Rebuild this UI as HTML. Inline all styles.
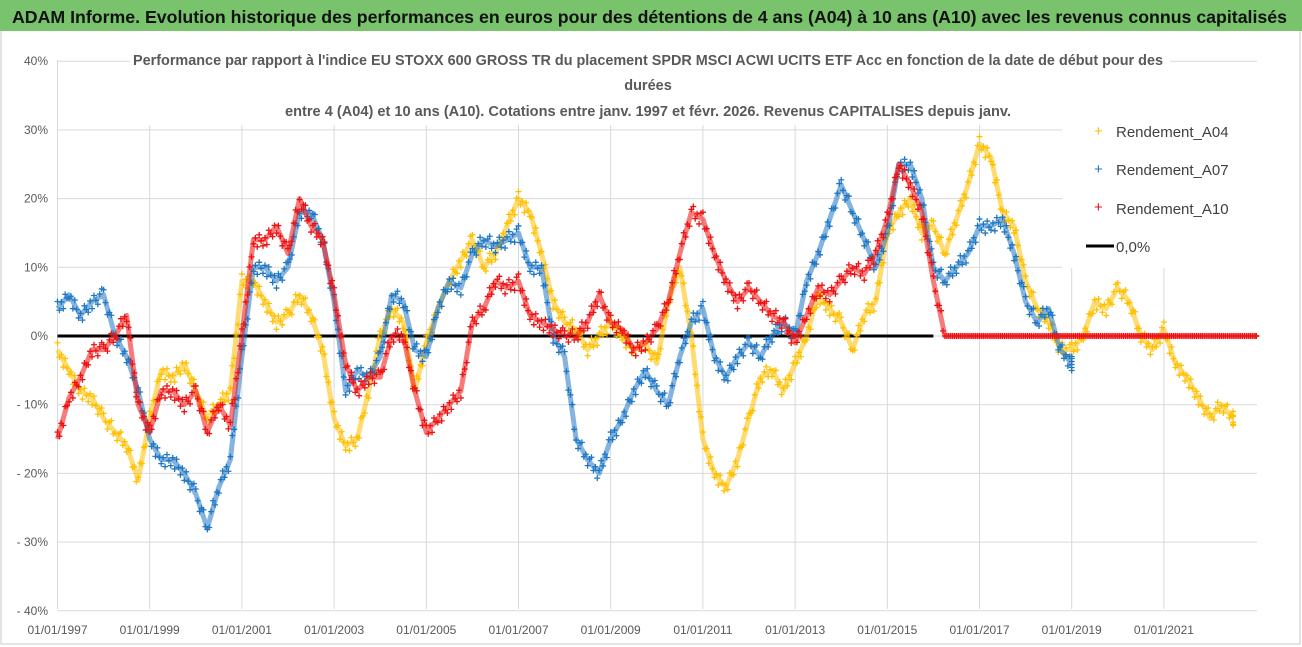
<!DOCTYPE html>
<html><head><meta charset="utf-8"><style>
body{margin:0;background:#fff;font-family:"Liberation Sans",sans-serif}
#wrap{position:relative;width:1302px;height:647px;overflow:hidden}
</style></head><body>
<div id="wrap">
<svg id="chart" width="1302" height="647">
<rect x="0" y="0" width="1302" height="647" fill="#fff"/>
<rect x="1" y="1" width="1299" height="643" fill="none" stroke="#c9c9c9"/>
<rect x="0" y="0" width="1302" height="31" fill="#78c36c"/>
<text x="12" y="23" font-size="17.5" font-weight="bold" fill="#111" font-family="Liberation Sans, sans-serif" textLength="1275" lengthAdjust="spacingAndGlyphs">ADAM Informe. Evolution historique des performances en euros pour des détentions de 4 ans (A04) à 10 ans (A10) avec les revenus connus capitalisés</text>
<g id="grid"></g>
<g id="marks"></g>
<rect x="130" y="44" width="1040" height="78" fill="#fff"/>
<g font-size="14.5" font-weight="bold" fill="#595959" text-anchor="middle">
<text x="648" y="65" textLength="1030" lengthAdjust="spacingAndGlyphs">Performance par rapport à l'indice EU STOXX 600 GROSS TR  du placement SPDR MSCI ACWI UCITS ETF Acc en fonction de la date de début pour des</text>
<text x="648" y="90">durées</text>
<text x="648" y="116" textLength="726" lengthAdjust="spacingAndGlyphs">entre 4 (A04) et 10 ans (A10). Cotations entre janv. 1997 et févr. 2026. Revenus CAPITALISES depuis janv.</text>
</g>
<rect x="1062" y="118" width="196" height="150" fill="#fff"/>
<g font-size="15" fill="#404040">
<g><text x="1094" y="136" fill="#ffc000" font-size="15">+</text><text x="1116" y="137">Rendement_A04</text></g>
<g><text x="1094" y="174" fill="#1f77c4" font-size="15">+</text><text x="1116" y="175">Rendement_A07</text></g>
<g><text x="1094" y="212" fill="#ee1111" font-size="15">+</text><text x="1116" y="214">Rendement_A10</text></g>
<g><line x1="1086" y1="246" x2="1114" y2="246" stroke="#000" stroke-width="3"/><text x="1116" y="252">0,0%</text></g>
</g>
<g id="labels" font-size="12" fill="#595959"></g>
</svg>
</div>
<script>
const yTicks = [40,30,20,10,0,-10,-20,-30,-40];
const yTickLabels = ["40%","30%","20%","10%","0%","- 10%","- 20%","- 30%","- 40%"];
const xTickYears = [1997,1999,2001,2003,2005,2007,2009,2011,2013,2015,2017,2019,2021];
const xTickLabels = ["01/01/1997","01/01/1999","01/01/2001","01/01/2003","01/01/2005","01/01/2007","01/01/2009","01/01/2011","01/01/2013","01/01/2015","01/01/2017","01/01/2019","01/01/2021"];
const startYear = 1997, stepYears = 0.25;
const a04 = [-2,-5,-8,-9,-12,-14,-16,-21,-12,-5,-6,-4,-8,-12,-10,-8,8,8,5,2,3,6,3,-2,-12,-16,-15,-8,0,4,2,-8,-1,4,8,11,14,10,12,16,20,18,12,5,2,1,-2,0,2,0,-2,-1,-4,5,10,0,-15,-20,-22,-18,-12,-6,-5,-8,-4,0,6,4,2,-2,3,5,15,18,20,15,16,12,17,22,28,26,18,16,8,4,2,-2,-2,0,5,4,7,5,0,-2,1,-4,-6,-9,-12,-10,-12];
const a07 = [4,6,3,5,6,0,-3,-8,-15,-18,-18,-20,-23,-28,-22,-18,-3,10,10,8,10,18,18,14,5,-8,-5,-6,-3,6,5,-2,-3,4,8,7,12,14,13,14,15,10,10,0,-3,-15,-18,-20,-15,-12,-8,-5,-8,-10,-3,2,4,-3,-6,-3,-1,-3,0,2,0,8,12,17,22,18,14,10,15,25,25,20,10,8,10,12,16,16,17,12,5,2,4,-2,-4];
const a10 = [-15,-9,-6,-2,-2,0,3,-10,-14,-8,-8,-10,-8,-14,-10,-13,0,14,14,16,12,20,16,14,6,-4,-8,-6,-6,0,0,-8,-14,-12,-10,-8,2,4,8,7,8,3,2,1,0,0,2,6,2,1,-2,-1,1,5,12,18,17,12,8,5,7,5,3,2,-1,3,7,6,8,10,9,12,17,25,22,18,8,0,0,0,0,0,0,0,0,0,0,0,0,0,0,0,0,0,0,0,0,0,0,0,0,0,0,0,0];

const X0=57.5, PXY=46.1, Y0=336, PXV=6.87, RIGHT=1257, TOP=60, BOT=609;
function xScale(year){return X0+(year-startYear)*PXY;}
function yScale(v){return Y0-v*PXV;}
const NS="http://www.w3.org/2000/svg";
function mk(tag,attrs,parent){const e=document.createElementNS(NS,tag);for(const k in attrs)e.setAttribute(k,attrs[k]);parent.appendChild(e);return e;}
const grid=document.getElementById('grid'), marks=document.getElementById('marks'), labels=document.getElementById('labels');
yTicks.forEach((t,i)=>{
  const l=mk('line',{x1:X0,x2:RIGHT,y1:yScale(t),y2:yScale(t),stroke:'#d9d9d9','stroke-width':1},grid);
  
  
  const tx=mk('text',{x:48,y:yScale(t)+4,'text-anchor':'end'},labels);
  tx.textContent=yTickLabels[i];
  
  
});
xTickYears.forEach((yr,i)=>{
  const l=mk('line',{x1:xScale(yr),x2:xScale(yr),y1:yScale(30)-5,y2:BOT,stroke:'#d9d9d9','stroke-width':1},grid);
  
  
  const tx=mk('text',{x:xScale(yr),y:634,'text-anchor':'middle'},labels);
  tx.textContent=xTickLabels[i];
  
  
});
mk('line',{x1:X0,x2:X0,y1:TOP,y2:BOT,stroke:'#d9d9d9'},grid);
const zl=mk('line',{x1:X0,x2:xScale(2016),y1:yScale(0),y2:yScale(0),stroke:'#000','stroke-width':3},marks);


const spread=[-7,4,-2,7,-5,1,6,-3];
function drawSeries(arr,color,name,zeroFrom){
  const g=mk('g',{},marks);
  
  
  const pts=arr.map((v,i)=>[xScale(startYear+i*stepYears),yScale(v),v]);
  const pl=mk('polyline',{points:pts.map(p=>p[0]+','+p[1]).join(' '),fill:'none',stroke:color,'stroke-width':5,'stroke-opacity':0.55,'stroke-linejoin':'round'},g);
  
  
  for(let i=0;i<pts.length;i++){
    const nxt=pts[i+1]||pts[i];
    const flat=(pts[i][2]===0&&nxt[2]===0&&zeroFrom!==undefined&&i>=zeroFrom);
    for(let k=0;k<6;k++){
      const f=k/6, x=pts[i][0]+(nxt[0]-pts[i][0])*f, y=pts[i][1]+(nxt[1]-pts[i][1])*f;
      const off=flat?0:spread[(i+k)%spread.length];
      const p=mk('path',{d:`M${x-3},${y+off}h6M${x},${y+off-3}v6`,stroke:color,'stroke-width':1.3},g);
      
      
    }
  }
}
drawSeries(a04,'#ffc000','series-a04');
drawSeries(a07,'#1f77c4','series-a07');
drawSeries(a10,'#ee1111','series-a10',76);
</script>
</body></html>
